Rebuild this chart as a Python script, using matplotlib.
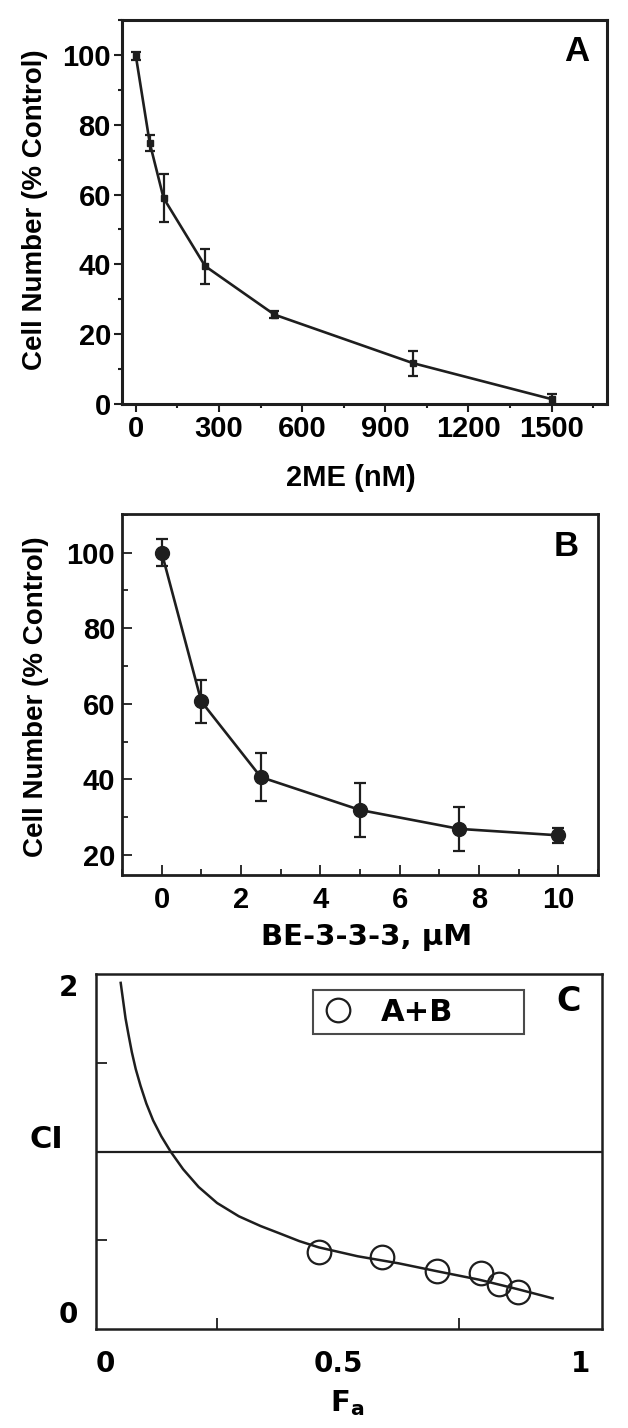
import matplotlib
matplotlib.use('Agg')
import matplotlib.pyplot as plt
from matplotlib.ticker import MultipleLocator, FixedLocator
from matplotlib.lines import Line2D

plt.rcParams['font.family'] = ['Liberation Sans', 'DejaVu Sans']
plt.rcParams['font.weight'] = 'bold'
plt.rcParams['mathtext.fontset'] = 'dejavusans'

INK = '#1e1e1e'
WIDE = 'DejaVu Sans'   # panel C / BE label use a wider face

# panel A - 2ME dose response
me_conc = [0, 50, 100, 250, 500, 1000, 1500]
me_cells = [99.7, 74.8, 59.0, 39.5, 25.6, 11.7, 1.4]
me_err = [1.2, 2.4, 7.0, 5.0, 1.0, 3.6, 1.5]

# panel B - BE-3-3-3 dose response
be_conc = [0, 1, 2.5, 5, 7.5, 10]
be_cells = [100, 60.6, 40.6, 31.9, 26.9, 25.2]
be_err = [3.6, 5.7, 6.3, 7.1, 5.9, 2.0]

# panel C - combination index curve and points
fa_curve = [0.051, 0.056, 0.061, 0.067, 0.074, 0.082, 0.092, 0.104, 0.118,
            0.135, 0.154, 0.180, 0.212, 0.250, 0.295, 0.340, 0.378, 0.420,
            0.460, 0.540, 0.625, 0.705, 0.791, 0.870, 0.943]
ci_curve = [1.95, 1.85, 1.75, 1.66, 1.56, 1.465, 1.37, 1.27, 1.175,
            1.085, 1.00, 0.90, 0.80, 0.71, 0.635, 0.58, 0.54, 0.495,
            0.46, 0.41, 0.37, 0.325, 0.278, 0.225, 0.173]
fa_points = [0.460, 0.591, 0.704, 0.795, 0.832, 0.871]
ci_points = [0.436, 0.407, 0.327, 0.314, 0.254, 0.207]

W, H = 628, 1428
fig = plt.figure(figsize=(W / 100, H / 100), dpi=100)


def box(l, t, r, b):
    return [l / W, 1 - b / H, (r - l) / W, (b - t) / H]


def style_spines(ax, lw):
    for s in ax.spines.values():
        s.set_linewidth(lw)
        s.set_color(INK)


# ---- A ----
axA = fig.add_axes(box(122, 20, 607, 404))
axA.errorbar(me_conc, me_cells, yerr=me_err, fmt='-s', color=INK, ms=5,
             lw=1.9, elinewidth=1.6, capsize=3.8, capthick=1.6)
axA.set_xlim(-50, 1700)
axA.set_ylim(0, 110)
axA.set_xticks(range(0, 1501, 300))
axA.xaxis.set_minor_locator(MultipleLocator(150))
axA.set_yticks(range(0, 101, 20))
axA.yaxis.set_minor_locator(MultipleLocator(10))
axA.tick_params(which='both', direction='out', color=INK, width=1.5)
axA.tick_params(which='major', length=6, labelsize=21, pad=2)
axA.tick_params(which='minor', length=3)
style_spines(axA, 2.2)
axA.text(0.472, -0.193, '2ME (nM)', transform=axA.transAxes, ha='center',
         va='center', fontsize=21)
axA.text(-0.179, 0.505, 'Cell Number (% Control)', transform=axA.transAxes,
         ha='center', va='center', rotation=90, fontsize=20)
axA.text(0.938, 0.919, 'A', transform=axA.transAxes, ha='center',
         va='center', fontsize=25)

# ---- B ----
axB = fig.add_axes(box(122, 514, 598, 875))
axB.errorbar(be_conc, be_cells, yerr=be_err, fmt='-o', color=INK, ms=10,
             lw=1.9, elinewidth=1.6, capsize=4, capthick=1.6)
axB.set_xlim(-1, 11)
axB.set_ylim(14.7, 110.2)
axB.set_xticks(range(0, 11, 2))
axB.xaxis.set_minor_locator(MultipleLocator(1))
axB.set_yticks(range(20, 101, 20))
axB.yaxis.set_minor_locator(MultipleLocator(10))
axB.tick_params(which='both', direction='in', color=INK, width=1.3)
axB.tick_params(which='major', length=7, labelsize=21)
axB.tick_params(axis='x', which='major', pad=8)
axB.tick_params(axis='y', which='major', pad=5)
axB.tick_params(which='minor', length=4)
style_spines(axB, 2.0)
axB.text(0.513, -0.172, 'BE-3-3-3, \u03bcM', transform=axB.transAxes,
         ha='center', va='center', fontsize=21, family=WIDE)
axB.text(-0.181, 0.493, 'Cell Number (% Control)', transform=axB.transAxes,
         ha='center', va='center', rotation=90, fontsize=20)
axB.text(0.933, 0.909, 'B', transform=axB.transAxes, ha='center',
         va='center', fontsize=25)

# ---- C ----
axC = fig.add_axes(box(96, 974, 602, 1329))
axC.plot(fa_curve, ci_curve, color=INK, lw=1.8)
axC.axhline(1, color=INK, lw=1.6)
axC.plot(fa_points, ci_points, 'o', ms=17, mfc='none', mec=INK, mew=1.6,
         clip_on=False)
axC.set_xlim(0, 1.045)
axC.set_ylim(0, 2)
axC.set_xticks([0, 0.5, 1])
axC.set_xticklabels(['0', '0.5', '1'])
axC.xaxis.set_minor_locator(FixedLocator([0.25, 0.5, 0.75]))
axC.set_yticks([0, 2])
axC.set_yticklabels(['0', '2'])
axC.yaxis.set_minor_locator(FixedLocator([0.5, 1.5]))
axC.tick_params(which='major', length=0, labelsize=20)
axC.tick_params(axis='x', which='major', pad=15)
axC.tick_params(axis='y', which='major', pad=13)
axC.tick_params(which='minor', direction='in', length=8, width=1.3, color=INK)
for lab in axC.get_xticklabels() + axC.get_yticklabels():
    lab.set_family(WIDE)
axC.get_xticklabels()[0].set_ha('left')
axC.get_yticklabels()[0].set_va('bottom')
axC.get_yticklabels()[1].set_va('top')
style_spines(axC, 1.8)
axC.text(-0.098, 0.535, 'CI', transform=axC.transAxes, ha='center',
         va='center', fontsize=22, family=WIDE)
axC.text(0.497, -0.208, r'$\mathbf{F_a}$', transform=axC.transAxes,
         ha='center', va='center', fontsize=21)
axC.text(0.935, 0.923, 'C', transform=axC.transAxes, ha='center',
         va='center', fontsize=24, family=WIDE)
handle = Line2D([], [], ls='none', marker='o', ms=17, mfc='none', mec=INK,
                mew=1.6)
leg = axC.legend([handle], ['A+B'], loc='upper left',
                 bbox_to_anchor=(0.4285, 0.811, 0.4165, 0.144),
                 mode='expand', borderaxespad=0, frameon=True,
                 prop={'family': WIDE, 'weight': 'bold', 'size': 22},
                 fancybox=False, edgecolor=INK, borderpad=0.25,
                 handlelength=1.14, handletextpad=0.83)
leg.get_frame().set_linewidth(1.5)

fig.savefig('out.png', dpi=100)
